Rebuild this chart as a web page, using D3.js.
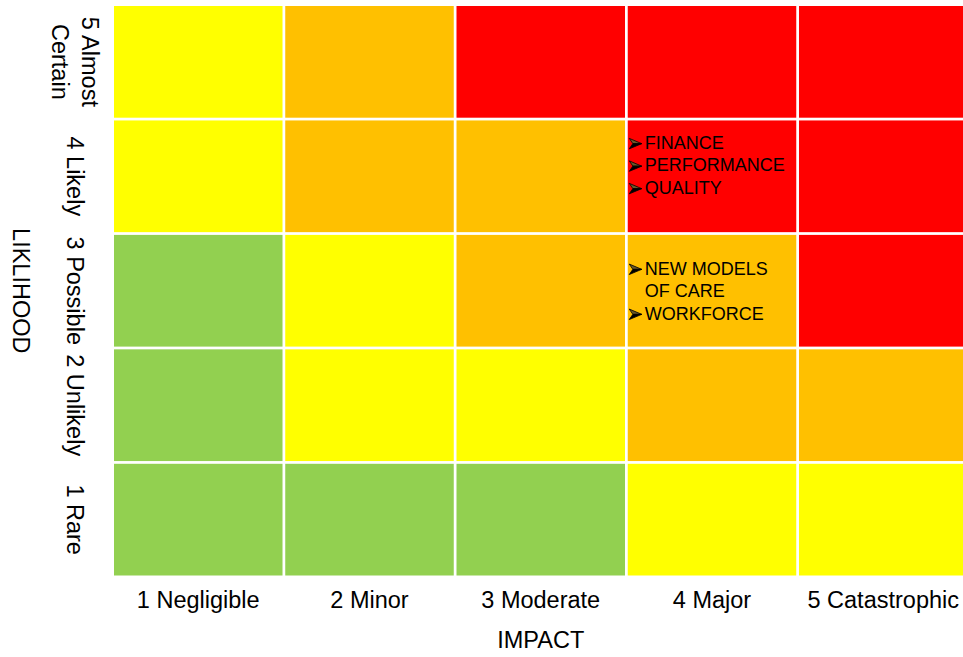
<!DOCTYPE html>
<html>
<head>
<meta charset="utf-8">
<script src="https://cdn.jsdelivr.net/npm/d3@7.9.0/dist/d3.min.js"></script>
<style>
  html, body { margin: 0; padding: 0; background: #fff; overflow: hidden; }
  svg { display: block; font-family: 'Liberation Sans', Arial, sans-serif; }
</style>
</head>
<body>
<svg id="matrix"></svg>
<script>
// Risk matrix: impact across, likelihood down (5 at the top).
const impacts = [1, 2, 3, 4, 5];
const impactNames = ['1 Negligible', '2 Minor', '3 Moderate', '4 Major', '5 Catastrophic'];

const likelihoods = [5, 4, 3, 2, 1];
const likelihoodNames = [['5 Almost', 'Certain'], ['4 Likely'], ['3 Possible'], ['2 Unlikely'], ['1 Rare']];

// one row per likelihood (5 -> 1), one entry per impact (1 -> 5)
const ratings = [
  ['moderate', 'high', 'extreme', 'extreme', 'extreme'],
  ['moderate', 'high', 'high', 'extreme', 'extreme'],
  ['low', 'moderate', 'high', 'high', 'extreme'],
  ['low', 'moderate', 'moderate', 'high', 'high'],
  ['low', 'low', 'low', 'moderate', 'moderate'],
];

const levels = ['low', 'moderate', 'high', 'extreme'];
const levelColors = ['#92D050', '#FFFF00', '#FFC000', '#FF0000'];

// risks written into cells; [text, hasBullet]
const risks = [
  { impact: 4, likelihood: 4, lines: [['FINANCE', true], ['PERFORMANCE', true], ['QUALITY', true], ['', false]] },
  { impact: 4, likelihood: 3, lines: [['NEW MODELS', true], ['OF CARE', false], ['WORKFORCE', true]] },
];

const width = 963;
const height = 657;
const grid = { left: 114, top: 6, right: 967.5, bottom: 575.5 };
const labelSize = 23.5;
const noteSize = 18;

const svg = d3.select('#matrix').attr('width', width).attr('height', height);

const x = d3.scaleBand().domain(impacts).range([grid.left, grid.right]).paddingInner(0.016);
const y = d3.scaleBand().domain(likelihoods).range([grid.top, grid.bottom]).paddingInner(0.024);
const color = d3.scaleOrdinal().domain(levels).range(levelColors);

const cells = likelihoods.flatMap((l, r) =>
  impacts.map((im, c) => ({ impact: im, likelihood: l, level: ratings[r][c] }))
);

svg.append('g')
  .selectAll('rect')
  .data(cells)
  .join('rect')
  .attr('x', (d) => x(d.impact))
  .attr('y', (d) => y(d.likelihood))
  .attr('width', x.bandwidth())
  .attr('height', y.bandwidth())
  .attr('fill', (d) => color(d.level));

// cell notes, block centred vertically in the cell
const lineHeight = 22.5;
const notes = svg.append('g')
  .selectAll('g')
  .data(risks)
  .join('g')
  .attr('transform', (d) => `translate(${x(d.impact)}, ${y(d.likelihood) + y.bandwidth() / 2})`);

// arrowhead bullet, drawn with its baseline at 0
function drawBullet(g, bx, by) {
  const b = g.append('g').attr('transform', `translate(${bx}, ${by})`);
  b.append('path')
    .attr('d', 'M0,-10.5 L12.5,-5.2 L3.6,-5.2 Z')
    .attr('fill', '#6b5a2a')
    .attr('stroke', '#000')
    .attr('stroke-width', 0.8)
    .attr('stroke-linejoin', 'round');
  b.append('path')
    .attr('d', 'M3.6,-5.2 L12.5,-5.2 L0,0 Z')
    .attr('fill', '#000')
    .attr('stroke', '#000')
    .attr('stroke-width', 0.8)
    .attr('stroke-linejoin', 'round');
}

notes.each(function (d) {
  const g = d3.select(this);
  const n = d.lines.length;
  d.lines.forEach(([text, bullet], i) => {
    const by = (i - (n - 1) / 2) * lineHeight + noteSize * 0.35;
    if (bullet) drawBullet(g, 1.5, by);
    g.append('text')
      .attr('x', 17)
      .attr('y', by)
      .attr('font-size', noteSize)
      .attr('fill', '#000')
      .text(text);
  });
});

// impact labels
svg.append('g')
  .selectAll('text')
  .data(impacts)
  .join('text')
  .attr('x', (d) => x(d) + x.bandwidth() / 2)
  .attr('y', grid.bottom + 32.5)
  .attr('text-anchor', 'middle')
  .attr('font-size', labelSize)
  .attr('fill', '#000')
  .text((d, i) => impactNames[i]);

// likelihood labels, rotated to read top to bottom
const rowLabels = svg.append('g')
  .selectAll('text')
  .data(likelihoods)
  .join('text')
  .attr('transform', (d) => `translate(67, ${y(d) + y.bandwidth() / 2}) rotate(90)`)
  .attr('text-anchor', 'middle')
  .attr('font-size', labelSize)
  .attr('fill', '#000');

rowLabels.each(function (d, r) {
  const lines = likelihoodNames[r];
  d3.select(this)
    .selectAll('tspan')
    .data(lines)
    .join('tspan')
    .attr('x', 0)
    .attr('y', (t, i) => (i - (lines.length - 1) / 2) * 30)
    .text((t) => t);
});

// axis titles
svg.append('text')
  .attr('x', (grid.left + grid.right) / 2)
  .attr('y', grid.bottom + 72.5)
  .attr('text-anchor', 'middle')
  .attr('font-size', labelSize)
  .attr('fill', '#000')
  .text('IMPACT');

svg.append('text')
  .attr('transform', `translate(12.5, ${(grid.top + grid.bottom) / 2}) rotate(90)`)
  .attr('text-anchor', 'middle')
  .attr('font-size', labelSize)
  .attr('fill', '#000')
  .text('LIKLIHOOD');
</script>
</body>
</html>
